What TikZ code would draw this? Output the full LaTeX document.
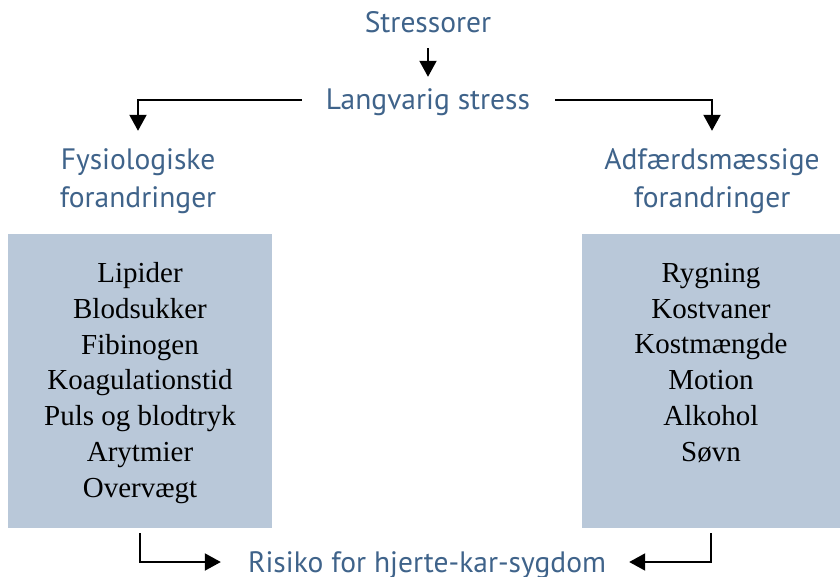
\documentclass[tikz,border=0pt]{standalone}
\usepackage{fontspec}
\setmainfont{Liberation Serif}
\newfontfamily\headfont{PT Sans}
\usetikzlibrary{arrows.meta}

\definecolor{headblue}{RGB}{63,99,138}
\definecolor{boxblue}{RGB}{185,200,217}

\tikzset{
  head/.style={font=\headfont\fontsize{29.5}{38}\selectfont, text=headblue, inner sep=0pt,
    text height=26pt, text depth=6pt, align=center},
  twolines/.style={text height=64pt},
  conn/.style={line width=2pt, -{Triangle[width=17pt,length=16pt]}},
  listbox/.style={fill=boxblue, inner sep=0pt},
  items/.style={font=\fontsize{29}{35.7}\selectfont, align=center, anchor=base, inner sep=0pt}
}

\begin{document}
\begin{tikzpicture}[x=1pt,y=-1pt]
      \useasboundingbox (0,0) rectangle (840,577);

      \begin{scope}[every node/.style={head}]
        \node (stressorer) at (428,23)  {Stressorer};
        \node (langvarig)  at (428,100) {Langvarig stress};
        \node[twolines] (fys) at (138,179) {Fysiologiske\\forandringer};
        \node[twolines] (adf) at (712,179) {Adfærdsmæssige\\forandringer};
        \node (risiko)     at (427,562) {Risiko for hjerte-kar-sygdom};
      \end{scope}

      \node[listbox, minimum width=264pt, minimum height=294pt] (lbox) at (140,381) {};
      \node[listbox, minimum width=258pt, minimum height=294pt] (rbox) at (711,381) {};

      % lists sit on the baseline of their last line
      \node[items] (lliste) at (140,497) {Lipider\\Blodsukker\\Fibinogen\\Koagulationstid\\Puls og blodtryk\\Arytmier\\Overvægt};
      \node[items] (rliste) at (711,461) {Rygning\\Kostvaner\\Kostmængde\\Motion\\Alkohol\\Søvn};

      \draw[conn, shorten <=9pt, shorten >=7pt] (stressorer) -- (langvarig);
      \draw[conn, shorten <=24pt, shorten >=13pt] (langvarig.west) -| (fys.north);
      \draw[conn, shorten <=25pt, shorten >=13pt] (langvarig.east) -| (adf.north);
      \draw[conn, shorten <=5pt, shorten >=27pt] (lbox.south) |- (risiko.west);
      \draw[conn, shorten <=5pt, shorten >=23pt] (rbox.south) |- (risiko.east);

    \end{tikzpicture}
\end{document}
